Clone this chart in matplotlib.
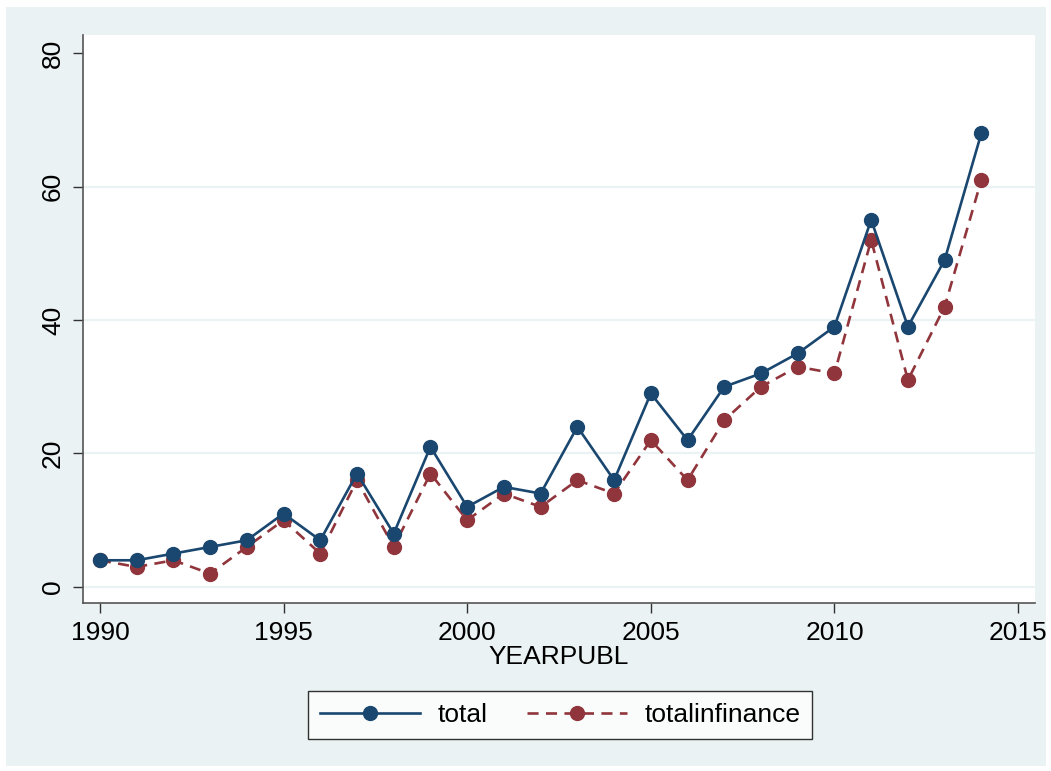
import numpy as np
import matplotlib
matplotlib.use("Agg")
import matplotlib.pyplot as plt
from matplotlib.patches import Rectangle

# data
years = list(range(1990, 2015))
total = [4, 4, 5, 6, 7, 11, 7, 17, 8, 21, 12, 15, 14, 24, 16, 29, 22, 30, 32, 35, 39, 55, 39, 49, 68]
totalinfinance = [4, 3, 4, 2, 6, 10, 5, 16, 6, 17, 10, 14, 12, 16, 14, 22, 16, 25, 30, 33, 32, 52, 31, 42, 61]
xticks = [1990, 1995, 2000, 2005, 2010, 2015]
yticks = [0, 20, 40, 60, 80]

plt.rcParams['font.family'] = ['Liberation Sans', 'DejaVu Sans']

W, H = 1051, 771
fig = plt.figure(figsize=(W / 100, H / 100), dpi=100)
fig.patch.set_facecolor('white')
# stata-style outer background
fig.patches.append(Rectangle((6 / W, 5 / H), 1040 / W, 759 / H, transform=fig.transFigure,
                             facecolor='#EAF2F3', edgecolor='none', zorder=-10))

ax = fig.add_axes([83 / W, (H - 603) / H, (1035 - 83) / W, (603 - 35) / H])
ax.set_facecolor('white')

navy = '#1A476F'
maroon = '#90353B'
ax.plot(years, total, color=navy, lw=1.9, marker='o', ms=10, label='total', zorder=3)
ax.plot(years, totalinfinance, color=maroon, lw=1.9, marker='o', ms=10, dashes=(4.2, 2.8),
        label='totalinfinance', zorder=2)

ax.set_xlim(1989.54, 2015.46)
ax.set_ylim(-2.4, 82.7)
ax.set_xticks(xticks)
ax.set_yticks(yticks)
for v in yticks[:-1]:
    ax.axhline(v, color='#EAF2F3', lw=1.6, zorder=0)

for s in ['top', 'right']:
    ax.spines[s].set_visible(False)
for s in ['left', 'bottom']:
    ax.spines[s].set_color('#555555')
    ax.spines[s].set_linewidth(1.2)

ax.tick_params(axis='both', length=7, width=1, color='#333333', labelsize=19)
ax.tick_params(axis='x', pad=6)
ax.tick_params(axis='y', pad=6)
for lab in ax.get_yticklabels():
    lab.set_rotation(90)
    lab.set_va('center')

ax.set_xlabel('YEARPUBL', fontsize=19, labelpad=0)

leg = ax.legend(loc='center', bbox_to_anchor=(560 / W, (H - 715) / H), bbox_transform=fig.transFigure,
                ncol=2, fontsize=19, frameon=True, fancybox=False, handlelength=3.8,
                columnspacing=1.5, handletextpad=0.65, borderpad=0.45, borderaxespad=0)
leg.get_frame().set_edgecolor('black')
leg.get_frame().set_linewidth(1.0)

fig.savefig('out.png', dpi=100, facecolor=fig.get_facecolor())
